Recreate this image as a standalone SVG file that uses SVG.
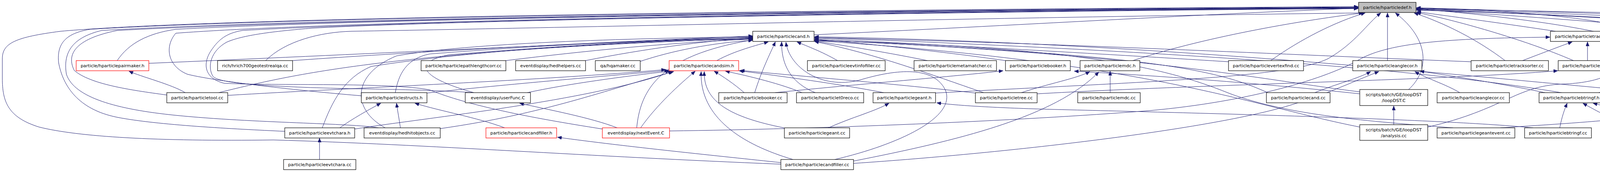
<svg xmlns="http://www.w3.org/2000/svg" width="5305" height="440" viewBox="0 0 5305 440">
<style>
.n rect{fill:#ffffff;stroke:#000000;stroke-width:1.2}
.r rect{fill:#ffffff;stroke:#ff0000;stroke-width:1.2}
.g rect{fill:#bfbfbf;stroke:#000000;stroke-width:1.2}
text{font-family:"DejaVu Sans","Liberation Sans",sans-serif;font-size:11.3px;fill:#000000;text-anchor:middle}
#edges path{fill:none;stroke:#191970;stroke-width:1;marker-end:url(#a)}
</style>
<defs>
<marker id="a" markerWidth="11" markerHeight="9" refX="11" refY="4.5" orient="auto" markerUnits="userSpaceOnUse">
<path d="M0,0 L11,4.5 L0,9 z" fill="#191970" stroke="#191970" stroke-width="0.5"/>
</marker>
</defs>
<rect width="5305" height="440" fill="#ffffff"/>
<g id="edges">
<path d="M474,237 C440,216 360,196 330,182"/>
<path d="M818,408 L818,353"/>
<path d="M1025,327 C1022,305 1018,285 1015,264"/>
<path d="M1292,327 C1220,300 1130,285 1062,264"/>
<path d="M870,327 C900,305 945,280 975,264"/>
<path d="M1580,327 C1510,300 1400,280 1330,264"/>
<path d="M1640,327 C1680,270 1740,215 1780,182"/>
<path d="M1630,327 C1640,220 1700,140 1927,102"/>
<path d="M1714,335 C2100,330 2600,310 2943,283 C3200,260 3400,200 3484,150 C3560,110 3700,98 3968,95"/>
<path d="M1999,416 C1850,400 1600,375 1427,351"/>
<path d="M583,244 C900,225 1400,205 1704,178"/>
<path d="M1093,238 C1300,215 1550,195 1712,180"/>
<path d="M1350,237 C1450,215 1600,195 1715,182"/>
<path d="M1127,329 C1400,290 1550,230 1725,183"/>
<path d="M908,330 C1100,300 1500,260 1722,183"/>
<path d="M381,162 C900,140 1500,110 1927,95"/>
<path d="M749,155 C1100,130 1500,110 1927,92"/>
<path d="M560,237 C750,190 1000,130 1927,98"/>
<path d="M1295,155 C1500,130 1700,110 1927,100"/>
<path d="M1499,155 C1650,125 1800,105 1927,97"/>
<path d="M1639,157 C1720,130 1820,110 1927,103"/>
<path d="M1835,155 C1880,130 1940,115 1967,107"/>
<path d="M1932,237 C1950,180 1970,140 1985,107"/>
<path d="M1905,237 C1880,215 1850,195 1828,182"/>
<path d="M2087,237 C2020,210 2000,160 2001,107"/>
<path d="M2053,237 C2000,215 1920,195 1857,182"/>
<path d="M2262,237 C2150,215 2000,195 1892,181"/>
<path d="M2121,327 C2180,300 2240,285 2276,264"/>
<path d="M2007,327 C1870,300 1800,260 1803,183"/>
<path d="M2030,408 C1900,370 1790,300 1795,183"/>
<path d="M2137,408 C2300,370 2450,300 2420,230 C2390,170 2300,175 2200,205 C2100,230 2020,170 2012,108"/>
<path d="M2144,155 C2100,130 2070,120 2040,107"/>
<path d="M2374,155 C2250,130 2150,115 2085,105"/>
<path d="M2574,155 C2400,130 2200,110 2085,100"/>
<path d="M1984,237 C2200,215 2450,195 2568,181"/>
<path d="M2497,238 C2300,215 2050,195 1895,180"/>
<path d="M2518,237 C2380,190 2250,140 2085,106"/>
<path d="M2842,237 L2842,182"/>
<path d="M2615,237 C2680,215 2760,200 2790,183"/>
<path d="M2185,412 C2450,360 2700,300 2813,184"/>
<path d="M2900,155 C3100,90 3350,50 3490,33"/>
<path d="M3253,155 C3330,100 3420,55 3495,33"/>
<path d="M3552,155 L3552,33"/>
<path d="M2084,89 C2600,65 3100,35 3477,21"/>
<path d="M3481,240 C3200,210 2900,190 2750,182"/>
<path d="M3606,229 C3660,180 3660,100 3572,33"/>
<path d="M3568,319 L3568,271"/>
<path d="M3366,237 C3420,215 3480,200 3509,183"/>
<path d="M2185,418 C2600,390 3100,330 3300,270 C3400,240 3460,210 3530,183"/>
<path d="M3245,237 C3100,170 2900,140 2085,102"/>
<path d="M3145,158 C2700,130 2300,110 2085,98"/>
<path d="M3481,235 C3200,200 2950,140 2085,102"/>
<path d="M3481,325 C3200,270 2950,160 2085,104"/>
<path d="M3720,327 C3500,310 3300,295 3150,240 C3000,180 2800,120 2085,104"/>
<path d="M3925,327 C3700,305 3100,290 2700,280 C2550,276 2450,270 2398,263"/>
<path d="M3766,158 C3300,140 2700,110 2085,96"/>
<path d="M4180,232 C3800,200 3000,110 2085,94"/>
<path d="M4340,327 C4100,220 3500,150 2085,96"/>
<path d="M3737,237 C3700,215 3650,200 3622,183"/>
<path d="M3955,237 C3850,215 3720,195 3635,182"/>
<path d="M3982,80 C3850,60 3700,40 3627,30"/>
<path d="M4028,155 C3900,100 3720,50 3626,32"/>
<path d="M3853,155 C3780,100 3700,60 3620,33"/>
<path d="M4367,80 C4100,55 3800,35 3626,24"/>
<path d="M4272,229 C4310,150 4290,80 3626,22"/>
<path d="M4093,237 C4200,200 4230,120 4180,80 C4100,40 3800,25 3626,20"/>
<path d="M4572,155 C4590,80 4300,45 3626,25"/>
<path d="M4648,237 C4690,180 4660,110 4560,75 C4300,50 3800,30 3626,26"/>
<path d="M4684,80 C4400,60 3900,35 3626,22"/>
<path d="M4855,80 C4500,55 3900,30 3626,21"/>
<path d="M5122,80 C4700,55 4000,30 3626,20"/>
<path d="M4805,416 C5000,380 5083,320 5083,230 L5083,140 C5083,60 4700,40 3626,23"/>
<path d="M4682,408 C4600,385 4520,368 4440,353"/>
<path d="M4330,327 C4250,300 4140,280 4078,264"/>
<path d="M4168,327 C4120,300 4080,280 4052,264"/>
<path d="M3993,327 C3998,300 4005,280 4012,264"/>
<path d="M4380,327 C4380,220 4250,140 4140,107"/>
<path d="M3655,325 C3850,280 3880,220 4000,215 C4150,210 4180,150 4105,108"/>
<path d="M3898,155 C3950,135 3990,120 4025,107"/>
<path d="M4064,155 L4064,107"/>
<path d="M4214,229 C4180,210 4140,195 4100,182"/>
<path d="M3841,327 C4100,310 4300,300 4380,250 C4430,200 4450,150 4455,107"/>
<path d="M4807,155 C4790,135 4780,125 4773,107"/>
<path d="M4627,237 C4610,215 4590,200 4582,182"/>
<path d="M2655,240 C3100,215 3700,205 3988,181"/>
<path d="M2395,238 C2900,210 3300,200 3400,150 C3470,110 3500,60 3535,33"/>
<path d="M1999,420 C1500,400 1100,370 700,358 C400,362 200,350 100,325 C20,300 6,260 6,200 L6,150 C6,110 40,95 155,80 C600,40 2500,22 3477,17"/>
<path d="M729,336 C600,330 402,320 300,300 C200,280 161,220 150,160 C145,110 170,85 230,75 C800,40 2500,24 3477,18"/>
<path d="M969,327 C900,315 650,315 450,295 C300,280 190,250 170,190 C160,130 190,95 260,78 C800,45 2500,24 3477,19"/>
<path d="M427,243 C330,230 230,215 190,180 C170,140 190,100 300,78 C900,45 2500,25 3477,20"/>
<path d="M300,155 C330,110 380,85 450,75 C1000,45 2500,26 3477,20"/>
<path d="M925,245 C800,235 560,210 480,190 C430,170 420,120 450,85 C900,50 2500,27 3477,21"/>
<path d="M1542,330 C1350,300 1200,270 1100,230 C1000,210 700,220 574,213 C520,200 520,160 540,130 C560,100 580,85 620,78 C1100,50 2500,28 3477,21"/>
<path d="M1210,237 C1150,232 1000,228 900,227 C700,222 560,215 545,195 C530,170 540,130 580,108 C620,90 700,80 800,72 C1200,50 2500,29 3477,22"/>
<path d="M680,155 C730,105 820,82 900,80 C1500,70 2500,45 3490,33"/>
<path d="M986,327 C900,280 900,190 1015,143 C1200,110 1600,98 1927,94"/>
<path d="M1012,237 C1020,190 1040,150 1100,138 C1400,115 1700,100 1927,96"/>
<path d="M1213,237 C1080,200 1050,160 1150,140 C1400,120 1700,100 1927,99"/>
<path d="M825,327 C850,260 880,200 950,170 C1200,130 1600,105 1927,100"/>
</g>
<g id="n_def" class="g"><rect x="3478" y="6" width="147" height="26"/><text x="3551.5" y="23">particle/hparticledef.h</text></g>
<g id="n_cand_h" class="n"><rect x="1927" y="80" width="157" height="26"/><text x="2005.5" y="97">particle/hparticlecand.h</text></g>
<g id="n_tracksorter_h" class="n"><rect x="3969" y="80" width="191" height="26"/><text x="4064.5" y="97">particle/hparticletracksorter.h</text></g>
<g id="n_geantevent_h" class="n"><rect x="4367" y="80" width="192" height="26"/><text x="4463" y="97">particle/hparticlegeantevent.h</text></g>
<g id="n_cal_h" class="n"><rect x="4684" y="80" width="146" height="26"/><text x="4757" y="97">particle/hparticlecal.h</text></g>
<g id="n_constants" class="n"><rect x="4855" y="80" width="192" height="26"/><text x="4951" y="97">particle/hparticleconstants.cc</text></g>
<g id="n_pairdraw" class="r"><rect x="5122" y="80" width="177" height="26"/><text x="5210.5" y="97">particle/hparticlepairdraw.h</text></g>
<g id="n_pairmaker" class="r"><rect x="195" y="155" width="186" height="26"/><text x="288" y="172">particle/hparticlepairmaker.h</text></g>
<g id="n_rich" class="n"><rect x="557" y="155" width="192" height="26"/><text x="653" y="172">rich/hrich700geotestrealqa.cc</text></g>
<g id="n_pathlength" class="n"><rect x="1078" y="155" width="217" height="26"/><text x="1186.5" y="172">particle/hparticlepathlengthcorr.cc</text></g>
<g id="n_hedhelpers" class="n"><rect x="1320" y="155" width="179" height="26"/><text x="1409.5" y="172">eventdisplay/hedhelpers.cc</text></g>
<g id="n_hqamaker" class="n"><rect x="1524" y="155" width="115" height="26"/><text x="1581.5" y="172">qa/hqamaker.cc</text></g>
<g id="n_candsim" class="r"><rect x="1713" y="155" width="178" height="26"/><text x="1802" y="172">particle/hparticlecandsim.h</text></g>
<g id="n_evtinfofiller" class="n"><rect x="2067" y="155" width="199" height="26"/><text x="2166.5" y="172">particle/hparticleevtinfofiller.cc</text></g>
<g id="n_metamatcher" class="n"><rect x="2340" y="155" width="211" height="26"/><text x="2445.5" y="172">particle/hparticlemetamatcher.cc</text></g>
<g id="n_booker_h" class="n"><rect x="2574" y="155" width="166" height="26"/><text x="2657" y="172">particle/hparticlebooker.h</text></g>
<g id="n_mdc_h" class="n"><rect x="2765" y="155" width="153" height="26"/><text x="2841.5" y="172">particle/hparticlemdc.h</text></g>
<g id="n_vertexfind" class="n"><rect x="3145" y="155" width="192" height="26"/><text x="3241" y="172">particle/hparticlevertexfind.cc</text></g>
<g id="n_anglecor_h" class="n"><rect x="3463" y="155" width="177" height="26"/><text x="3551.5" y="172">particle/hparticleanglecor.h</text></g>
<g id="n_tracksorter_cc" class="n"><rect x="3766" y="155" width="198" height="26"/><text x="3865" y="172">particle/hparticletracksorter.cc</text></g>
<g id="n_tree_h" class="n"><rect x="3989" y="155" width="151" height="26"/><text x="4064.5" y="172">particle/hparticletree.h</text></g>
<g id="n_trackcleaner_h" class="r"><rect x="4467" y="155" width="199" height="26"/><text x="4566.5" y="172">particle/hparticletrackcleaner.h</text></g>
<g id="n_cal_cc" class="n"><rect x="4740" y="155" width="152" height="26"/><text x="4816" y="172">particle/hparticlecal.cc</text></g>
<g id="n_tool" class="n"><rect x="427" y="237" width="156" height="26"/><text x="505" y="254">particle/hparticletool.cc</text></g>
<g id="n_structs" class="n"><rect x="925" y="237" width="168" height="26"/><text x="1009" y="254">particle/hparticlestructs.h</text></g>
<g id="n_userfunc" class="n"><rect x="1191" y="237" width="167" height="26"/><text x="1274.5" y="254">eventdisplay/userFunc.C</text></g>
<g id="n_booker_cc" class="n"><rect x="1840" y="237" width="175" height="26"/><text x="1927.5" y="254">particle/hparticlebooker.cc</text></g>
<g id="n_t0reco" class="n"><rect x="2039" y="237" width="172" height="26"/><text x="2125" y="254">particle/hparticlet0reco.cc</text></g>
<g id="n_geant_h" class="n"><rect x="2235" y="237" width="160" height="26"/><text x="2315" y="254">particle/hparticlegeant.h</text></g>
<g id="n_tree_cc" class="n"><rect x="2497" y="237" width="158" height="26"/><text x="2576" y="254">particle/hparticletree.cc</text></g>
<g id="n_mdc_cc" class="n"><rect x="2759" y="237" width="160" height="26"/><text x="2839" y="254">particle/hparticlemdc.cc</text></g>
<g id="n_cand_cc" class="n"><rect x="3242" y="237" width="163" height="26"/><text x="3323.5" y="254">particle/hparticlecand.cc</text></g>
<g id="n_loopdst" class="n"><rect x="3481" y="229" width="174" height="41"/><text x="3568" y="246">scripts/batch/GE/loopDST</text><text x="3568" y="261">/loopDST.C</text></g>
<g id="n_anglecor_cc" class="n"><rect x="3679" y="237" width="185" height="26"/><text x="3771.5" y="254">particle/hparticleanglecor.cc</text></g>
<g id="n_btringf_h" class="n"><rect x="3940" y="237" width="165" height="26"/><text x="4022.5" y="254">particle/hparticlebtringf.h</text></g>
<g id="n_treefilter" class="r"><rect x="4180" y="229" width="163" height="41"/><text x="4261.5" y="246">scripts/batch/GE/dstreal</text><text x="4261.5" y="261">/treeFilter.h</text></g>
<g id="n_trackcleaner_cc" class="n"><rect x="4533" y="237" width="208" height="26"/><text x="4637" y="254">particle/hparticletrackcleaner.cc</text></g>
<g id="n_evtchara_h" class="n"><rect x="729" y="327" width="179" height="26"/><text x="818.5" y="344">particle/hparticleevtchara.h</text></g>
<g id="n_hedhitobjects" class="n"><rect x="932" y="327" width="195" height="26"/><text x="1029.5" y="344">eventdisplay/hedhitobjects.cc</text></g>
<g id="n_candfiller_h" class="r"><rect x="1244" y="327" width="181" height="26"/><text x="1334.5" y="344">particle/hparticlecandfiller.h</text></g>
<g id="n_nextevent" class="r"><rect x="1542" y="327" width="172" height="26"/><text x="1628" y="344">eventdisplay/nextEvent.C</text></g>
<g id="n_geant_cc" class="n"><rect x="2008" y="327" width="167" height="26"/><text x="2091.5" y="344">particle/hparticlegeant.cc</text></g>
<g id="n_analysis" class="n"><rect x="3481" y="319" width="174" height="40"/><text x="3568" y="336">scripts/batch/GE/loopDST</text><text x="3568" y="351">/analysis.cc</text></g>
<g id="n_geantevent_cc" class="n"><rect x="3679" y="327" width="199" height="26"/><text x="3778.5" y="344">particle/hparticlegeantevent.cc</text></g>
<g id="n_btringf_cc" class="n"><rect x="3903" y="327" width="171" height="26"/><text x="3988.5" y="344">particle/hparticlebtringf.cc</text></g>
<g id="n_btclusterf" class="n"><rect x="4097" y="327" width="190" height="26"/><text x="4192" y="344">particle/hparticlebtclusterf.cc</text></g>
<g id="n_bt_h" class="r"><rect x="4311" y="327" width="139" height="26"/><text x="4380.5" y="344">particle/hparticlebt.h</text></g>
<g id="n_evtchara_cc" class="n"><rect x="726" y="408" width="185" height="26"/><text x="818.5" y="425">particle/hparticleevtchara.cc</text></g>
<g id="n_candfiller_cc" class="n"><rect x="1999" y="408" width="186" height="26"/><text x="2092" y="425">particle/hparticlecandfiller.cc</text></g>
<g id="n_bt_cc" class="n"><rect x="4659" y="408" width="146" height="26"/><text x="4732" y="425">particle/hparticlebt.cc</text></g>
</svg>
